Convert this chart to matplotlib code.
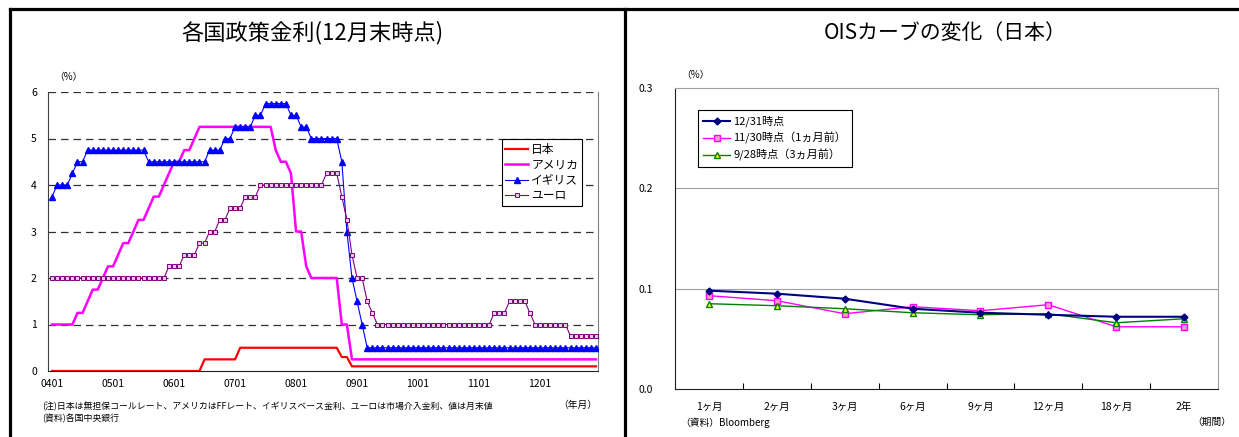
import matplotlib.pyplot as plt
from matplotlib.lines import Line2D

plt.rcParams['font.family'] = ['Noto Sans CJK JP', 'DejaVu Sans']

# 各国政策金利 月末値 (2004/01 - 2012/12)
japan = [
    0, 0, 0, 0, 0, 0, 0, 0, 0, 0, 0, 0,
    0, 0, 0, 0, 0, 0, 0, 0, 0, 0, 0, 0,
    0, 0, 0, 0, 0, 0, 0.25, 0.25, 0.25, 0.25, 0.25, 0.25,
    0.25, 0.5, 0.5, 0.5, 0.5, 0.5, 0.5, 0.5, 0.5, 0.5, 0.5, 0.5,
    0.5, 0.5, 0.5, 0.5, 0.5, 0.5, 0.5, 0.5, 0.5, 0.3, 0.3, 0.1,
    0.1, 0.1, 0.1, 0.1, 0.1, 0.1, 0.1, 0.1, 0.1, 0.1, 0.1, 0.1,
    0.1, 0.1, 0.1, 0.1, 0.1, 0.1, 0.1, 0.1, 0.1, 0.1, 0.1, 0.1,
    0.1, 0.1, 0.1, 0.1, 0.1, 0.1, 0.1, 0.1, 0.1, 0.1, 0.1, 0.1,
    0.1, 0.1, 0.1, 0.1, 0.1, 0.1, 0.1, 0.1, 0.1, 0.1, 0.1, 0.1,
]
usa = [
    1.0, 1.0, 1.0, 1.0, 1.0, 1.25, 1.25, 1.5, 1.75, 1.75, 2.0, 2.25,
    2.25, 2.5, 2.75, 2.75, 3.0, 3.25, 3.25, 3.5, 3.75, 3.75, 4.0, 4.25,
    4.5, 4.5, 4.75, 4.75, 5.0, 5.25, 5.25, 5.25, 5.25, 5.25, 5.25, 5.25,
    5.25, 5.25, 5.25, 5.25, 5.25, 5.25, 5.25, 5.25, 4.75, 4.5, 4.5, 4.25,
    3.0, 3.0, 2.25, 2.0, 2.0, 2.0, 2.0, 2.0, 2.0, 1.0, 1.0, 0.25,
    0.25, 0.25, 0.25, 0.25, 0.25, 0.25, 0.25, 0.25, 0.25, 0.25, 0.25, 0.25,
    0.25, 0.25, 0.25, 0.25, 0.25, 0.25, 0.25, 0.25, 0.25, 0.25, 0.25, 0.25,
    0.25, 0.25, 0.25, 0.25, 0.25, 0.25, 0.25, 0.25, 0.25, 0.25, 0.25, 0.25,
    0.25, 0.25, 0.25, 0.25, 0.25, 0.25, 0.25, 0.25, 0.25, 0.25, 0.25, 0.25,
]
uk = [
    3.75, 4.0, 4.0, 4.0, 4.25, 4.5, 4.5, 4.75, 4.75, 4.75, 4.75, 4.75,
    4.75, 4.75, 4.75, 4.75, 4.75, 4.75, 4.75, 4.5, 4.5, 4.5, 4.5, 4.5,
    4.5, 4.5, 4.5, 4.5, 4.5, 4.5, 4.5, 4.75, 4.75, 4.75, 5.0, 5.0,
    5.25, 5.25, 5.25, 5.25, 5.5, 5.5, 5.75, 5.75, 5.75, 5.75, 5.75, 5.5,
    5.5, 5.25, 5.25, 5.0, 5.0, 5.0, 5.0, 5.0, 5.0, 4.5, 3.0, 2.0,
    1.5, 1.0, 0.5, 0.5, 0.5, 0.5, 0.5, 0.5, 0.5, 0.5, 0.5, 0.5,
    0.5, 0.5, 0.5, 0.5, 0.5, 0.5, 0.5, 0.5, 0.5, 0.5, 0.5, 0.5,
    0.5, 0.5, 0.5, 0.5, 0.5, 0.5, 0.5, 0.5, 0.5, 0.5, 0.5, 0.5,
    0.5, 0.5, 0.5, 0.5, 0.5, 0.5, 0.5, 0.5, 0.5, 0.5, 0.5, 0.5,
]
euro = [
    2.0, 2.0, 2.0, 2.0, 2.0, 2.0, 2.0, 2.0, 2.0, 2.0, 2.0, 2.0,
    2.0, 2.0, 2.0, 2.0, 2.0, 2.0, 2.0, 2.0, 2.0, 2.0, 2.0, 2.25,
    2.25, 2.25, 2.5, 2.5, 2.5, 2.75, 2.75, 3.0, 3.0, 3.25, 3.25, 3.5,
    3.5, 3.5, 3.75, 3.75, 3.75, 4.0, 4.0, 4.0, 4.0, 4.0, 4.0, 4.0,
    4.0, 4.0, 4.0, 4.0, 4.0, 4.0, 4.25, 4.25, 4.25, 3.75, 3.25, 2.5,
    2.0, 2.0, 1.5, 1.25, 1.0, 1.0, 1.0, 1.0, 1.0, 1.0, 1.0, 1.0,
    1.0, 1.0, 1.0, 1.0, 1.0, 1.0, 1.0, 1.0, 1.0, 1.0, 1.0, 1.0,
    1.0, 1.0, 1.0, 1.25, 1.25, 1.25, 1.5, 1.5, 1.5, 1.5, 1.25, 1.0,
    1.0, 1.0, 1.0, 1.0, 1.0, 1.0, 0.75, 0.75, 0.75, 0.75, 0.75, 0.75,
]
year_labels = ['0401', '0501', '0601', '0701', '0801', '0901', '1001', '1101', '1201']

# OISカーブ (日本)
terms = ['1ヶ月', '2ヶ月', '3ヶ月', '6ヶ月', '9ヶ月', '12ヶ月', '18ヶ月', '2年']
ois_1231 = [0.098, 0.095, 0.090, 0.080, 0.076, 0.074, 0.072, 0.072]
ois_1130 = [0.093, 0.088, 0.075, 0.082, 0.078, 0.084, 0.062, 0.062]
ois_0928 = [0.085, 0.083, 0.080, 0.076, 0.074, 0.075, 0.066, 0.070]

W, H = 1239, 437
fig = plt.figure(figsize=(W / 100, H / 100), dpi=100)


def fx(px):
    return px / W


def fy(py):
    return 1 - py / H


# 外枠
for xs, ys in [([10, W], [9, 9]), ([10, 10], [9, H]), ([625, 625], [9, H])]:
    fig.add_artist(Line2D([fx(x) for x in xs], [fy(y) for y in ys], color='black', lw=2.3))

# ---- 左: 各国政策金利 ----
ax = fig.add_axes([fx(48), fy(371), fx(598) - fx(48), fy(92) - fy(371)])
m = list(range(len(japan)))
for v in range(1, 7):
    ax.axhline(v, color='#303030', lw=0.9, ls=(0, (6, 4)), zorder=1)
ax.plot(m, japan, color='#ff0000', lw=1.6, label='日本', zorder=3)
ax.plot(m, usa, color='#ff00ff', lw=1.8, label='アメリカ', zorder=3)
ax.plot(m, uk, color='#0000ff', lw=0.8, marker='^', ms=3.8, label='イギリス', zorder=4)
ax.plot(m, euro, color='#800080', lw=0.8, marker='s', ms=3.4, mfc='#e8c8e8', mec='#800080',
        mew=0.7, label='ユーロ', zorder=4)
ax.set_xlim(-0.8, 107.4)
ax.set_ylim(0, 6)
ax.set_yticks(range(0, 7))
ax.set_xticks(range(0, 108, 12))
ax.set_xticklabels(year_labels)
ax.tick_params(length=0, labelsize=7.5, pad=6)
ax.tick_params(axis='y', pad=8)
ax.spines['top'].set_visible(False)
ax.spines['right'].set_color('#808080')
ax.spines['left'].set_color('#404040')
ax.spines['bottom'].set_color('#202020')
leg = ax.legend(loc='upper left', bbox_to_anchor=(0.825, 0.83), fontsize=8.5, frameon=True,
                fancybox=False, edgecolor='black', framealpha=1, handlelength=1.9,
                handletextpad=0.3, labelspacing=0.2, borderpad=0.3, borderaxespad=0)
leg.get_frame().set_linewidth(0.8)

fig.text(fx(312), fy(33), '各国政策金利(12月末時点)', fontsize=16, ha='center', va='center')
fig.text(fx(68), fy(77), '（%）', fontsize=7, ha='center', va='center')
fig.text(fx(578), fy(405), '（年月）', fontsize=7, ha='center', va='center')
fig.text(fx(42), fy(406),
         '(注)日本は無担保コールレート、アメリカはFFレート、イギリスベース金利、ユーロは市場介入金利、値は月末値',
         fontsize=6.4, ha='left', va='center')
fig.text(fx(42), fy(418), '(資料)各国中央銀行', fontsize=6.4, ha='left', va='center')

# ---- 右: OISカーブの変化 ----
ax2 = fig.add_axes([fx(675), fy(389), fx(1218) - fx(675), fy(88) - fy(389)])
k = list(range(len(terms)))
for v in [0.1, 0.2]:
    ax2.axhline(v, color='#a0a0a0', lw=0.8, zorder=1)
ax2.plot(k, ois_1231, color='#000080', lw=1.5, marker='D', ms=3.5, label='12/31時点', zorder=5)
ax2.plot(k, ois_1130, color='#ff00ff', lw=1.0, marker='s', ms=5, mfc='#ff99cc', mec='#ff00ff',
         label='11/30時点（1ヵ月前）', zorder=4)
ax2.plot(k, ois_0928, color='#008000', lw=1.0, marker='^', ms=5, mfc='#ffff00', mec='#008000',
         label='9/28時点（3ヵ月前）', zorder=4)
ax2.set_xlim(-0.5, len(terms) - 0.5)
ax2.set_ylim(0, 0.3)
ax2.set_yticks([0.0, 0.1, 0.2, 0.3])
ax2.set_yticklabels(['0.0', '0.1', '0.2', '0.3'])
ax2.set_xticks([i + 0.5 for i in range(len(terms) - 1)])
ax2.set_xticklabels([])
ax2.set_xticks(k, minor=True)
ax2.set_xticklabels(terms, minor=True)
ax2.tick_params(axis='x', which='major', direction='in', length=4, width=0.8)
ax2.tick_params(axis='x', which='minor', length=0, labelsize=7.5, pad=9)
ax2.tick_params(axis='y', length=0, labelsize=7.5, pad=16)
ax2.spines['top'].set_color('#a0a0a0')
ax2.spines['right'].set_color('#a0a0a0')
ax2.spines['left'].set_color('#202020')
ax2.spines['bottom'].set_color('#202020')
leg2 = ax2.legend(loc='upper left', bbox_to_anchor=(0.042, 0.927), fontsize=8, frameon=True,
                  fancybox=False, edgecolor='black', framealpha=1, handlelength=2.4,
                  handletextpad=0.3, labelspacing=0.45, borderpad=0.5, borderaxespad=0)
leg2.get_frame().set_linewidth(0.8)

fig.text(fx(945), fy(33), 'OISカーブの変化（日本）', fontsize=15, ha='center', va='center')
fig.text(fx(695), fy(75), '（%）', fontsize=7, ha='center', va='center')
fig.text(fx(680), fy(423), '（資料）Bloomberg', fontsize=7, ha='left', va='center')
fig.text(fx(1212), fy(422), '（期間）', fontsize=7, ha='center', va='center')

fig.savefig('out.png', dpi=100)
